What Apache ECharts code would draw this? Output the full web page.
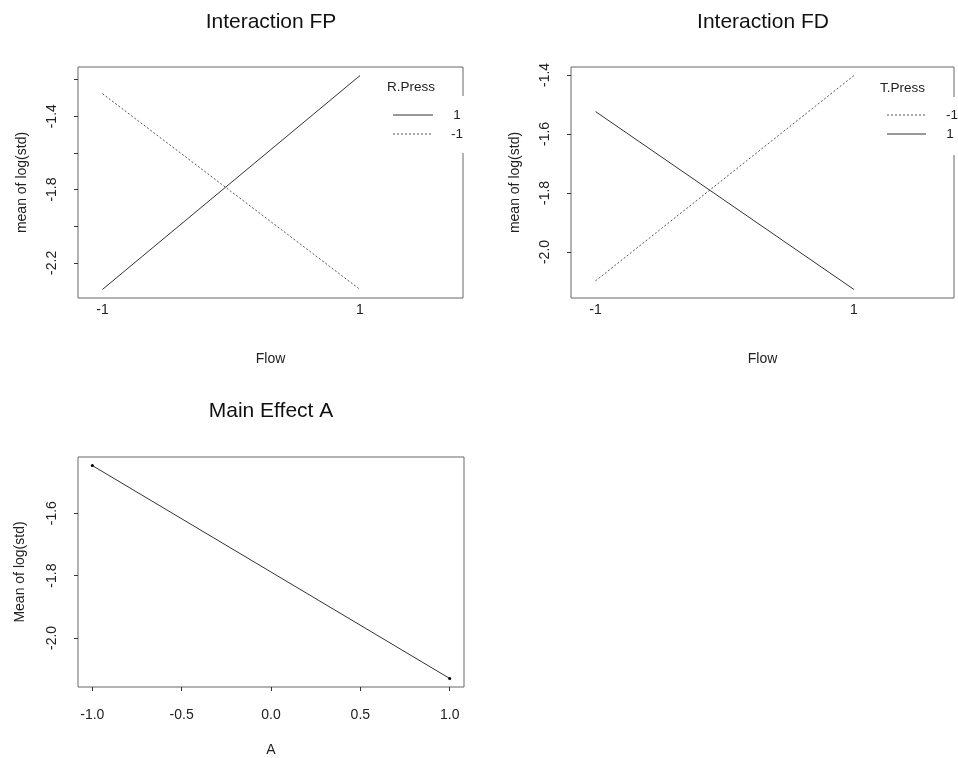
<!DOCTYPE html>
<html>
<head>
<meta charset="utf-8">
<script src="https://cdn.jsdelivr.net/npm/echarts@6/dist/echarts.min.js"></script>
<style>
  html, body { margin: 0; padding: 0; background: #fff; }
  #main { width: 958px; height: 758px; }
</style>
</head>
<body>
<div id="main"></div>
<script>
// 数据
var flowLevels = [-1, 1];
var fpPress1 = [-2.345, -1.178];   // R.Press = 1
var fpPressM1 = [-1.277, -2.345];  // R.Press = -1
var fdPressM1 = [-2.098, -1.402];  // T.Press = -1
var fdPress1 = [-1.524, -2.127];   // T.Press = 1
var aLevels = [-1, 1];
var aMeans = [-1.447, -2.130];

// 刻度
var fpTicks = [-2.2, -2.0, -1.8, -1.6, -1.4, -1.2];
var fpLabels = [-2.2, -1.8, -1.4];
var fdTicks = [-2.0, -1.8, -1.6, -1.4];
var aTicks = [-2.0, -1.8, -1.6];
var aXTicks = [-1, -0.5, 0, 0.5, 1];

function zip(xs, ys) {
    return xs.map(function (x, i) { return [x, ys[i]]; });
}
// R 默认留 4% 的边
function ext(arrs) {
    var all = [].concat.apply([], arrs);
    var lo = Math.min.apply(null, all), hi = Math.max.apply(null, all);
    var r = hi - lo;
    return [lo - 0.04 * r, hi + 0.04 * r];
}

var FONT = 'Liberation Sans, Arial, sans-serif';
var txt = '#222';

function yAxis(idx, range, ticks, labels, name, gap) {
    return {
        type: 'value', gridIndex: idx, min: range[0], max: range[1],
        splitLine: { show: false },
        axisLine: { show: false, onZero: false },
        axisTick: { show: true, length: 4, customValues: ticks, lineStyle: { color: '#333' } },
        axisLabel: {
            customValues: labels, rotate: 90, align: 'center', verticalAlign: 'bottom',
            margin: 19, color: txt, fontSize: 14, fontFamily: FONT,
            formatter: function (v) { return (+v).toFixed(1); }
        },
        name: name, nameLocation: 'middle', nameRotate: 90, nameGap: gap,
        nameTextStyle: { color: txt, fontSize: 14, fontFamily: FONT, align: 'center', verticalAlign: 'bottom' }
    };
}

var fpRange = ext([fpPress1, fpPressM1]);
var fdRange = ext([fdPressM1, fdPress1]);
var aRange = ext([aMeans]);

var titleStyle = { fontSize: 21, fontWeight: 'normal', color: '#111', fontFamily: FONT };

var myChart = echarts.init(document.getElementById('main'));
var option = {
    animation: false,
    backgroundColor: '#fff',
    title: [
        { text: 'Interaction FP', left: 266, top: 7, textAlign: 'center', textStyle: titleStyle },
        { text: 'Interaction FD', left: 758, top: 7, textAlign: 'center', textStyle: titleStyle },
        { text: 'Main Effect A', left: 266, top: 396, textAlign: 'center', textStyle: titleStyle }
    ],
    grid: [
        { left: 78, top: 67, width: 385, height: 231, show: true, borderColor: '#666', borderWidth: 1 },
        { left: 571, top: 67, width: 383, height: 231, show: true, borderColor: '#666', borderWidth: 1 },
        { left: 78, top: 457, width: 386, height: 231, show: true, borderColor: '#666', borderWidth: 1 }
    ],
    xAxis: [
        {
            type: 'value', gridIndex: 0, min: -1.19, max: 1.8,
            splitLine: { show: false }, axisLine: { show: false, onZero: false }, axisTick: { show: false },
            axisLabel: { customValues: flowLevels, margin: 5, color: txt, fontSize: 14, fontFamily: FONT, formatter: function (v) { return String(v); } },
            name: 'Flow', nameLocation: 'middle', nameGap: 54,
            nameTextStyle: { color: txt, fontSize: 14, fontFamily: FONT }
        },
        {
            type: 'value', gridIndex: 1, min: -1.19, max: 1.775,
            splitLine: { show: false }, axisLine: { show: false, onZero: false }, axisTick: { show: false },
            axisLabel: { customValues: flowLevels, margin: 5, color: txt, fontSize: 14, fontFamily: FONT, formatter: function (v) { return String(v); } },
            name: 'Flow', nameLocation: 'middle', nameGap: 54,
            nameTextStyle: { color: txt, fontSize: 14, fontFamily: FONT }
        },
        {
            type: 'value', gridIndex: 2, min: -1.08, max: 1.08,
            splitLine: { show: false },
            axisLine: { show: false, onZero: false },
            axisTick: { show: true, length: 4, customValues: aXTicks, lineStyle: { color: '#333' } },
            axisLabel: { customValues: aXTicks, margin: 21, color: txt, fontSize: 14, fontFamily: FONT, formatter: function (v) { return (+v).toFixed(1); } },
            name: 'A', nameLocation: 'middle', nameGap: 56,
            nameTextStyle: { color: txt, fontSize: 14, fontFamily: FONT }
        }
    ],
    yAxis: [
        yAxis(0, fpRange, fpTicks, fpLabels, 'mean of log(std)', 49),
        yAxis(1, fdRange, fdTicks, fdTicks, 'mean of log(std)', 49),
        yAxis(2, aRange, aTicks, aTicks, 'Mean of log(std)', 51)
    ],
    series: [
        { name: 'FP 1', type: 'line', xAxisIndex: 0, yAxisIndex: 0, data: zip(flowLevels, fpPress1), showSymbol: false, lineStyle: { color: '#333', width: 1 } },
        { name: 'FP -1', type: 'line', xAxisIndex: 0, yAxisIndex: 0, data: zip(flowLevels, fpPressM1), showSymbol: false, lineStyle: { color: '#555', width: 1, type: [2, 2] } },
        { name: 'FD -1', type: 'line', xAxisIndex: 1, yAxisIndex: 1, data: zip(flowLevels, fdPressM1), showSymbol: false, lineStyle: { color: '#555', width: 1, type: [2, 2] } },
        { name: 'FD 1', type: 'line', xAxisIndex: 1, yAxisIndex: 1, data: zip(flowLevels, fdPress1), showSymbol: false, lineStyle: { color: '#333', width: 1 } },
        { name: 'A', type: 'line', xAxisIndex: 2, yAxisIndex: 2, data: zip(aLevels, aMeans), symbol: 'circle', symbolSize: 3, itemStyle: { color: '#000' }, lineStyle: { color: '#333', width: 1 } }
    ],
    // 图例（仿 R 的 interaction.plot）
    graphic: [
        { type: 'rect', shape: { x: 383, y: 96, width: 87, height: 57 }, style: { fill: '#fff' }, z: 10 },
        { type: 'text', x: 387, y: 87, style: { text: 'R.Press', fill: txt, font: '13.5px ' + FONT, textVerticalAlign: 'middle' }, z: 11 },
        { type: 'line', shape: { x1: 393, y1: 115, x2: 433, y2: 115 }, style: { stroke: '#333', lineWidth: 1 }, z: 11 },
        { type: 'text', x: 457, y: 115, style: { text: '1', fill: txt, font: '13.5px ' + FONT, textAlign: 'center', textVerticalAlign: 'middle' }, z: 11 },
        { type: 'line', shape: { x1: 393, y1: 134, x2: 433, y2: 134 }, style: { stroke: '#555', lineWidth: 1, lineDash: [2, 2] }, z: 11 },
        { type: 'text', x: 457, y: 134, style: { text: '-1', fill: txt, font: '13.5px ' + FONT, textAlign: 'center', textVerticalAlign: 'middle' }, z: 11 },

        { type: 'rect', shape: { x: 876, y: 97, width: 82, height: 58 }, style: { fill: '#fff' }, z: 10 },
        { type: 'text', x: 880, y: 88, style: { text: 'T.Press', fill: txt, font: '13.5px ' + FONT, textVerticalAlign: 'middle' }, z: 11 },
        { type: 'line', shape: { x1: 887, y1: 115, x2: 926, y2: 115 }, style: { stroke: '#555', lineWidth: 1, lineDash: [2, 2] }, z: 11 },
        { type: 'text', x: 952, y: 115, style: { text: '-1', fill: txt, font: '13.5px ' + FONT, textAlign: 'center', textVerticalAlign: 'middle' }, z: 11 },
        { type: 'line', shape: { x1: 887, y1: 134, x2: 926, y2: 134 }, style: { stroke: '#333', lineWidth: 1 }, z: 11 },
        { type: 'text', x: 950, y: 134, style: { text: '1', fill: txt, font: '13.5px ' + FONT, textAlign: 'center', textVerticalAlign: 'middle' }, z: 11 }
    ]
};
myChart.setOption(option);
</script>
</body>
</html>
